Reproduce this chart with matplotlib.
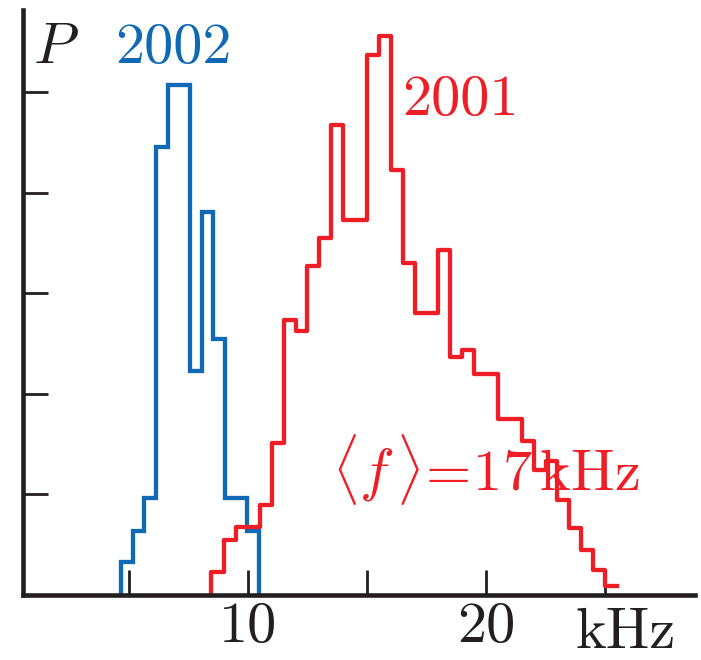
import matplotlib
matplotlib.use("Agg")
import matplotlib.pyplot as plt
import numpy as np

# 频率分布直方图（两年数据）
blue_edges = [4.68, 5.17, 5.65, 6.14, 6.63, 7.10, 7.58, 8.07, 8.55, 9.03, 9.50, 9.98, 10.46]
blue_vals = [0.33, 0.64, 0.96, 4.45, 5.07, 5.07, 2.23, 3.81, 2.54, 0.96, 0.96, 0.64]

red_edges = [8.45, 9.0, 9.5, 10.0, 10.5, 11.0, 11.5, 12.0, 12.5, 13.0, 13.5, 14.0,
             14.5, 15.0, 15.5, 16.0, 16.5, 17.0, 17.5, 18.0, 18.5, 19.0, 19.5, 20.0,
             20.5, 21.0, 21.5, 22.0, 22.5, 23.0, 23.5, 24.0, 24.5, 25.0, 25.5]
red_vals = [0.23, 0.55, 0.68, 0.68, 0.89, 1.51, 2.73, 2.62, 3.27, 3.55, 4.67, 3.73,
            3.73, 5.37, 5.56, 4.22, 3.30, 2.80, 2.80, 3.43, 2.37, 2.44, 2.20, 2.20,
            1.75, 1.75, 1.53, 1.24, 1.33, 0.94, 0.67, 0.45, 0.25, 0.09]

xticks = [5, 10, 15, 20, 25]
xticklabels = ['', '10', '', '20', '']
yticks = [1, 2, 3, 4, 5]

BLUE = '#0f69b4'
RED = '#ee1d26'
INK = '#231f20'

plt.rcParams['font.family'] = 'serif'
plt.rcParams['font.serif'] = ['cmr10']
plt.rcParams['mathtext.fontset'] = 'cm'
plt.rcParams['axes.formatter.use_mathtext'] = True

fig = plt.figure(figsize=(7.01, 6.6), dpi=100)
ax = fig.add_axes([23 / 701, 65 / 660, 672 / 701, 585 / 660])

# 2002：两端都落回横轴
ax.stairs(blue_vals, blue_edges, baseline=0, color=BLUE, lw=3.1)

# 2001：左端从横轴升起，右端不回落
rx = np.r_[red_edges[0], red_edges]
ry = np.r_[0, red_vals, red_vals[-1]]
ax.step(rx, ry, where='post', color=RED, lw=3.1)

ax.set_xlim(0.55, 28.78)
ax.set_ylim(0, 5.815)

for s in ['top', 'right']:
    ax.spines[s].set_visible(False)
for s in ['left', 'bottom']:
    ax.spines[s].set_linewidth(3.3)
    ax.spines[s].set_color(INK)

fs = 42

ax.set_xticks(xticks)
ax.set_xticklabels(xticklabels)
ax.set_yticks(yticks)
ax.set_yticklabels([])
ax.tick_params(direction='in', length=18, width=2, color=INK,
               labelsize=fs, labelcolor=INK, pad=5)

ax.text(0.97, 5.29, r'$P$', fontsize=fs, color=INK, ha='left', va='baseline')
ax.text(4.42, 5.29, '2002', fontsize=fs, color=BLUE, ha='left', va='baseline')
ax.text(16.46, 4.77, '2001', fontsize=fs, color=RED, ha='left', va='baseline')
ax.text(13.52, 1.03, r'$\langle f\,\rangle\!=\!17\,\mathrm{kHz}$', fontsize=fs,
        color=RED, ha='left', va='baseline')
ax.text(23.74, -0.527, 'kHz', fontsize=fs, color=INK, ha='left', va='baseline')

fig.savefig('out.png', dpi=100)
